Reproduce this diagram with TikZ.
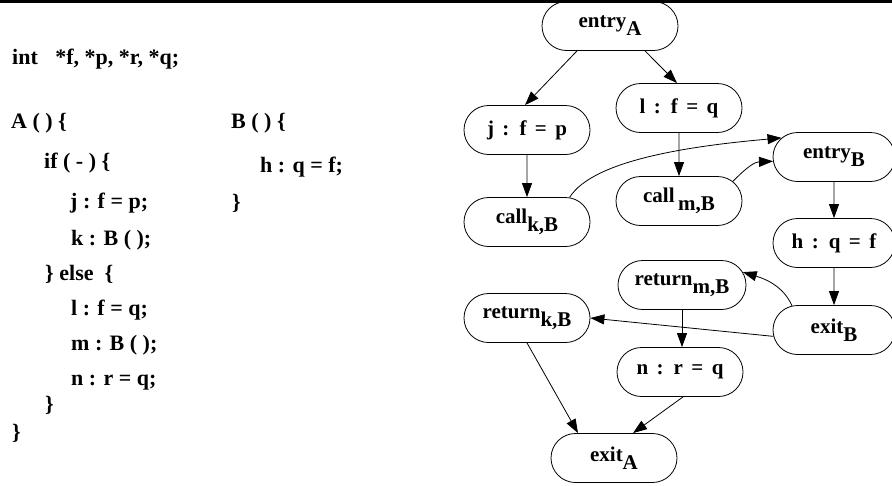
\documentclass[tikz,border=0pt]{standalone}
\usepackage{fontspec}
\setmainfont{Liberation Serif}
\newfontfamily\nodefont{Liberation Serif}[WordSpace=1.6]
\usetikzlibrary{shapes.misc,arrows.meta}
\newcommand\lowsub[1]{\raisebox{-8pt}{#1}}
\tikzset{
  cfg/.style={draw, shape=rounded rectangle, minimum width=126pt, minimum height=49pt,
    inner sep=0pt, line width=0.8pt, font=\nodefont\bfseries\fontsize{21}{25}\selectfont},
  arr/.style={line width=0.8pt, -{Triangle[length=14pt,width=10pt]}},
  code/.style={anchor=base west, inner sep=0pt, font=\bfseries\fontsize{22}{26}\selectfont}
}
\begin{document}
\begin{tikzpicture}[x=1pt,y=-1pt]
\useasboundingbox (0,0) rectangle (892,485);
\begin{scope}
\clip (0,0) rectangle (892,485);
% rule along the top edge
\fill (0,0) rectangle (892,3);

% source program
\node[code] (l0) at (12,64) {int\hspace{12pt} *f, *p, *r, *q;};
\node[code] (l1) at (11,128) {A ( ) \{};
\node[code] (l2) at (44,168) {if ( - ) \{};
\node[code] (l3) at (70,208) {j : f = p;};
\node[code] (l4) at (71,245) {k : B ( );};
\node[code] (l5) at (45,280) {\} else\ \ \{};
\node[code] (l6) at (71,315) {l : f = q;};
\node[code] (l7) at (71,350) {m : B ( );};
\node[code] (l8) at (71,385) {n : r = q;};
\node[code] (l9) at (45,411) {\}};
\node[code] (l10) at (12,439) {\}};
\node[code] (b1) at (231,128) {B ( ) \{};
\node[code] (b2) at (260,172) {h : q = f;};
\node[code] (b3) at (232,209) {\}};

% interprocedural control flow graph
\node[cfg, minimum width=136pt] (eA) at (610,26) {entry\lowsub{A}};
\node[cfg] (jfp) at (527,130) {j : f = p};
\node[cfg] (lfq) at (679,108) {l : f = q};
\node[cfg] (ckB) at (527,222) {call\lowsub{k,B}};
\node[cfg] (cmB) at (679,201) {call\,\lowsub{m,B}};
\node[cfg, minimum width=122pt] (eB) at (834,157) {entry\lowsub{B}};
\node[cfg, minimum width=122pt] (hqf) at (834,243) {h : q = f};
\node[cfg, minimum width=122pt] (xB) at (834,330) {exit\lowsub{B}};
\node[cfg, minimum width=128pt] (rmB) at (682,285) {return\lowsub{m,B}};
\node[cfg] (nrq) at (680,372) {n : r = q};
\node[cfg] (rkB) at (527,318) {return\lowsub{k,B}};
\node[cfg] (xA) at (614,458) {exit\lowsub{A}};

\draw[arr] ([xshift=-33pt]eA.south) -- ([xshift=-2pt]jfp.north);
\draw[arr] ([xshift=35pt]eA.south) -- ([xshift=-2pt]lfq.north);
\draw[arr] (jfp) -- (ckB);
\draw[arr] (lfq) -- (cmB);
\draw[arr] (ckB.30) .. controls (593,160) and (690,146) .. (eB.160);
\draw[arr] (cmB.20) .. controls (748,166) and (755,162) .. (eB.184);
\draw[arr] (eB) -- (hqf);
\draw[arr] (hqf) -- (xB);
\draw[arr] (xB.150) .. controls (785,290) and (772,281) .. (rmB.12);
\draw[arr] (xB.186) -- (rkB.east);
\draw[arr] (rmB.south) -- (rmB.south |- nrq.north);
\draw[arr] (rkB.south) -- ([xshift=-36pt]xA.north);
\draw[arr] ([xshift=3pt]nrq.south) -- ([xshift=19pt]xA.north);
\end{scope}
\end{tikzpicture}
\end{document}
